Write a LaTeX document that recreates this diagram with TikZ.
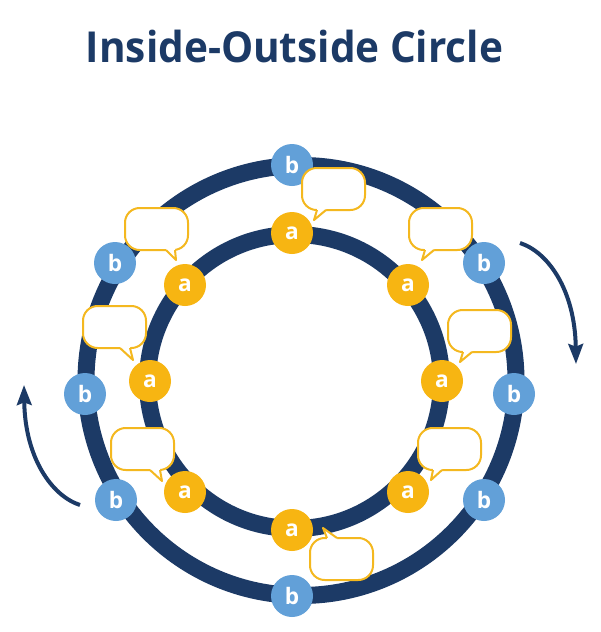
\documentclass[tikz,border=0pt]{standalone}
\usepackage{fontspec}
\setmainfont{Open Sans}
\usetikzlibrary{arrows.meta}
\definecolor{navy}{HTML}{1C3A66}
\definecolor{bblue}{HTML}{62A0D8}
\definecolor{ayellow}{HTML}{F7B512}
\definecolor{byellow}{HTML}{F4B81F}
\tikzset{
  ring/.style={draw=navy, line width=12.75pt},
  bnode/.style={circle, fill=bblue, minimum size=31.5pt, inner sep=0pt, text=white, font=\bfseries\fontsize{17}{17}\selectfont},
  anode/.style={circle, fill=ayellow, minimum size=31.5pt, inner sep=0pt, text=white, font=\bfseries\fontsize{17}{17}\selectfont},
  bubble/.style={draw=byellow, fill=white, line width=1.5pt, rounded corners=11pt},
  tailline/.style={draw=byellow, line width=1.5pt, line join=round},
  flow/.style={draw=navy, line width=3pt, -{Stealth[length=15pt,width=11pt,inset=2pt]}}
}
\newcommand\talkdown[6]{%
  \draw[bubble] (#1,#2) rectangle ++(63,42);
  \fill[white] (#3,#2+38) -- (#3,#2+42) -- (#5,#6) -- (#4,#2+42) -- (#4,#2+38) -- cycle;
  \draw[tailline] (#3,#2+42) -- (#5,#6) -- (#4,#2+42);
}
\newcommand\talkup[6]{%
  \draw[bubble] (#1,#2) rectangle ++(63,42);
  \fill[white] (#3,#2+4) -- (#3,#2) -- (#5,#6) -- (#4,#2) -- (#4,#2+4) -- cycle;
  \draw[tailline] (#3,#2) -- (#5,#6) -- (#4,#2);
}
\begin{document}
\begin{tikzpicture}[x=0.75pt,y=-0.75pt]
\path[use as bounding box, fill=white] (0,0) rectangle (600,632);
\node[anchor=base, text=navy, font=\bfseries\fontsize{32}{32}\selectfont, inner sep=0pt] (title) at (294.5,62.3) {\scalebox{0.95}[1]{Inside-Outside Circle}};
% rings
\coordinate (oc) at (301,380.5);
\coordinate (ic) at (294.5,381.5);
\draw[ring] (oc) circle[radius=215];
\draw[ring] (ic) circle[radius=147];
% rotation arrows
\coordinate (r0) at (520,243);
\coordinate (r1) at (576,364);
\coordinate (l0) at (80,505);
\coordinate (l1) at (24,385);
\draw[flow] (r0) .. controls (548,252) and (575,290) .. (r1);
\draw[flow] (l0) .. controls (52,496) and (25,458) .. (l1);
% outer b nodes
\node[bnode] (b1) at (292,165) {b};
\node[bnode] (b2) at (115,263) {b};
\node[bnode] (b3) at (85,394) {b};
\node[bnode] (b4) at (116,500) {b};
\node[bnode] (b5) at (292,596) {b};
\node[bnode] (b6) at (484,500) {b};
\node[bnode] (b7) at (514,394) {b};
\node[bnode] (b8) at (484,263) {b};
% inner a nodes
\node[anode] (a1) at (292,233) {a};
\node[anode] (a2) at (185,285) {a};
\node[anode] (a3) at (150,381) {a};
\node[anode] (a4) at (185,492) {a};
\node[anode] (a5) at (292,530) {a};
\node[anode] (a6) at (408,492) {a};
\node[anode] (a7) at (442,381) {a};
\node[anode] (a8) at (408,285) {a};
% speech bubbles
\talkdown{302}{168}{317}{326}{314}{220}
\talkdown{125}{208}{166}{175}{176}{260}
\talkdown{409}{208}{425}{434}{422}{260}
\talkdown{83}{306}{120}{130}{133}{360}
\talkdown{448}{310}{463}{472}{460}{362}
\talkdown{111}{428}{150}{160}{162}{481}
\talkdown{418}{428}{433}{442}{431}{480}
\talkup{310}{538}{327}{337}{323}{528}
\end{tikzpicture}
\end{document}
